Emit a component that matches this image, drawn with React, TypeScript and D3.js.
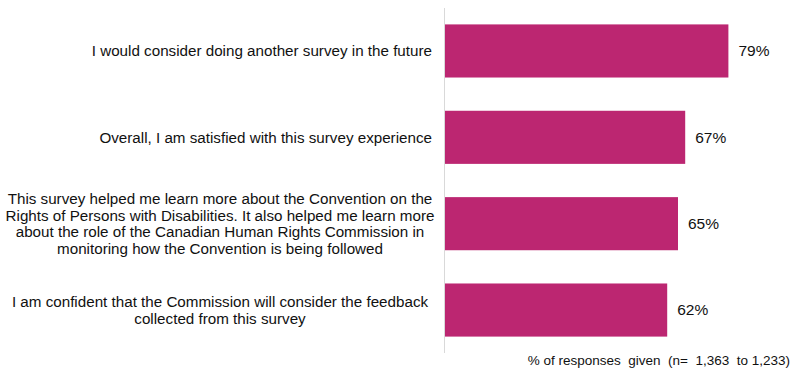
import React from "react";
import * as d3 from "d3";

const categories: string[][] = [
  ["I would consider doing another survey in the future"],
  ["Overall, I am satisfied with this survey experience"],
  [
    "This survey helped me learn more about the Convention on the",
    "Rights of Persons with Disabilities. It also helped me learn more",
    "about the role of the Canadian Human Rights Commission in",
    "monitoring how the Convention is being followed",
  ],
  [
    "I am confident that the Commission will consider the feedback",
    "collected from this survey",
  ],
];
const values: number[] = [79, 67, 65, 62];
const valueLabels: string[] = ["79%", "67%", "65%", "62%"];
const axisTitle = "% of responses  given  (n=  1,363  to 1,233)";

const W = 800;
const H = 376;

export default function App() {
  const x = d3.scaleLinear().domain([0, 100]).range([444, 804]);
  const y = d3
    .scaleBand<number>()
    .domain(d3.range(categories.length))
    .range([8, 353])
    .paddingInner(0.385)
    .paddingOuter(0.19);
  const font = "'Liberation Sans', Arial, sans-serif";
  const lineH = 16.7;
  return (
    <svg
      width={W}
      height={H}
      style={{ position: "absolute", left: 0, top: 0, background: "#fff" }}
      fontFamily={font}
    >
      <line x1={444.5} x2={444.5} y1={8} y2={353} stroke="#d9d9d9" strokeWidth={1} />
      {values.map((v, i) => {
        const y0 = y(i)!;
        const bh = y.bandwidth();
        const cy = y0 + bh / 2;
        const lines = categories[i];
        const single = lines.length === 1;
        return (
          <g key={i}>
            <rect x={x(0) + 1} y={y0} width={x(v) - x(0) - 1} height={bh} fill="#BC2671" />
            <text x={x(v) + 10} y={cy} dy="0.35em" fontSize={15.5} fill="#111">
              {valueLabels[i]}
            </text>
            {lines.map((ln, j) => (
              <text
                key={j}
                x={single ? 432 : 220}
                y={cy + (j - (lines.length - 1) / 2) * lineH}
                dy="0.35em"
                textAnchor={single ? "end" : "middle"}
                fontSize={15.2}
                fill="#111"
              >
                {ln}
              </text>
            ))}
          </g>
        );
      })}
      <text x={790} y={360} dy="0.35em" textAnchor="end" fontSize={13.5} fill="#111" style={{ whiteSpace: "pre" }}>
        {axisTitle}
      </text>
    </svg>
  );
}
